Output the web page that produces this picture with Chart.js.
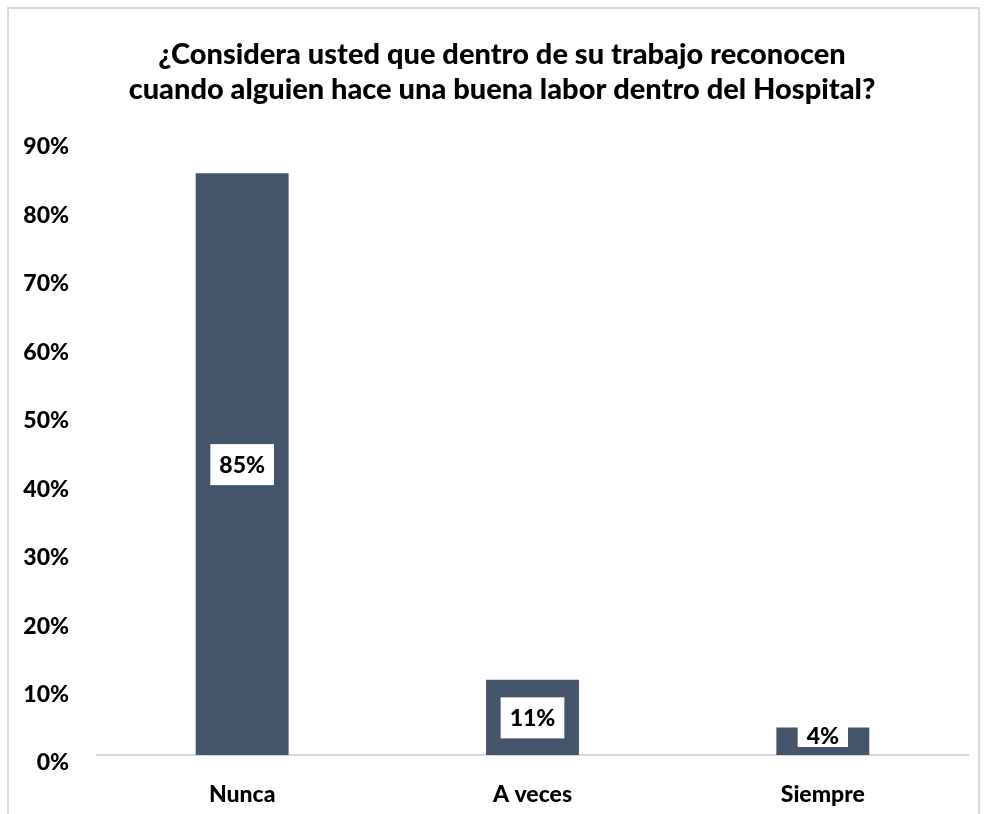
<!DOCTYPE html>
<html>
<head>
<meta charset="utf-8">
<script src="https://cdn.jsdelivr.net/npm/chart.js@4.4.0/dist/chart.umd.min.js"></script>
<style>
    html, body { margin: 0; padding: 0; background: #fff; overflow: hidden; }
    #wrap { position: relative; width: 986px; height: 814px; }
    #marco { position: absolute; left: 7px; top: 7px; width: 969px; height: 840px; border: 2px solid #d9d9d9; pointer-events: none; }
    canvas { position: absolute; left: 0; top: 0; }
</style>
</head>
<body>
<div id="wrap">
    <canvas id="myChart" width="986" height="814"></canvas>
    <div id="marco"></div>
</div>
<script>
// datos de la encuesta
const categorias = ["Nunca", "A veces", "Siempre"];
const porcentajes = [85, 11, 4];
const titulo = [
    "¿Considera usted que dentro de su trabajo reconocen",
    "cuando alguien hace una buena labor dentro del Hospital?"
];

const fuente = "Lato, 'Open Sans', sans-serif";
const colorBarra = "#44546a";

// titulo dibujado a mano para poder moverlo un poco a la derecha
const pluginTitulo = {
    id: "titulo",
    afterDraw(chart) {
        let ctx = chart.ctx;
        ctx.save();
        ctx.font = "900 29px " + fuente;
        ctx.fillStyle = "#000";
        ctx.textAlign = "center";
        ctx.textBaseline = "alphabetic";
        ctx.fillText(titulo[0], 502, 64);
        ctx.fillText(titulo[1], 502, 99);
        ctx.restore();
    }
};

// etiquetas con caja blanca dentro de cada barra
const pluginEtiquetas = {
    id: "etiquetas",
    afterDatasetsDraw(chart) {
        let ctx = chart.ctx;
        let meta = chart.getDatasetMeta(0);
        let base = chart.scales.y.getPixelForValue(0);
        ctx.save();
        ctx.font = "900 23px " + fuente;
        ctx.textAlign = "center";
        ctx.textBaseline = "middle";
        meta.data.forEach(function (bar, i) {
            let txt = porcentajes[i] + "%";
            let w = ctx.measureText(txt).width + 18;
            let yc = Math.min((bar.y + base) / 2, base - 19);
            let top = yc - 20;
            let bottom = Math.min(yc + 21, base - 8);
            ctx.fillStyle = "#fff";
            ctx.fillRect(bar.x - w / 2, top, w, bottom - top);
            ctx.fillStyle = "#000";
            ctx.fillText(txt, bar.x, yc + 1);
        });
        ctx.restore();
    }
};

let ctx = document.getElementById("myChart").getContext("2d");
let myChart = new Chart(ctx, {
    type: "bar",
    data: {
        labels: categorias,
        datasets: [{
            data: porcentajes,
            backgroundColor: colorBarra,
            borderWidth: 0,
            categoryPercentage: 1,
            barPercentage: 0.32
        }]
    },
    options: {
        responsive: false,
        animation: false,
        layout: { padding: { top: 139, right: 18, left: 0, bottom: 0 } },
        plugins: {
            legend: { display: false },
            tooltip: { enabled: false },
            title: { display: false }
        },
        scales: {
            x: {
                grid: { display: false, drawTicks: false },
                border: { display: true, color: "#d9d9d9", width: 2 },
                ticks: {
                    color: "#000",
                    padding: 26,
                    font: { family: fuente, size: 23, weight: "900" }
                },
                afterFit: function (scale) { scale.height = 59; }
            },
            y: {
                min: 0,
                max: 90,
                grid: { display: false, drawTicks: false },
                border: { display: false },
                ticks: {
                    stepSize: 10,
                    color: "#000",
                    padding: 28,
                    labelOffset: 8,
                    font: { family: fuente, size: 23, weight: "900" },
                    callback: function (v) { return v + "%"; }
                },
                afterFit: function (scale) { scale.width = 97; }
            }
        }
    },
    plugins: [pluginTitulo, pluginEtiquetas]
});
</script>
</body>
</html>
